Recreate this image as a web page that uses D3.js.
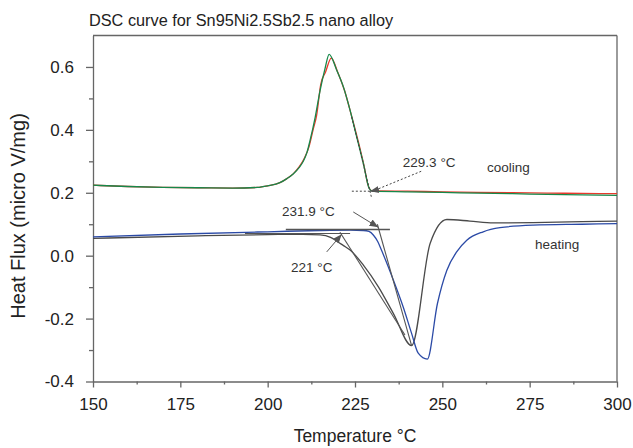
<!DOCTYPE html>
<html>
<head>
<meta charset="utf-8">
<script src="https://cdnjs.cloudflare.com/ajax/libs/d3/7.8.5/d3.min.js"></script>
<style>
  body { margin: 0; background: #fff; }
  svg { font-family: "Liberation Sans", Arial, sans-serif; }
</style>
</head>
<body>
<svg id="chart" width="633" height="448"></svg>
<script>
// tick values
var xTicks = [150, 175, 200, 225, 250, 275, 300];
var xMinor = [162.5, 187.5, 212.5, 237.5, 262.5, 287.5];
var yTicks = [-0.4, -0.2, 0.0, 0.2, 0.4, 0.6];
var yMinor = [-0.3, -0.1, 0.1, 0.3, 0.5];

// cooling run (green) and repeat (red)
var greenT = [150, 160, 170, 180, 190, 197, 200, 203.5, 205.5, 207.3, 209, 210.2, 211.3, 212.1, 213.6, 215, 216.4, 217.6, 219.8, 221.7, 223.6, 225.5, 227.4, 229.1, 230, 240, 250, 260, 270, 280, 290, 300];
var greenV = [0.224, 0.220, 0.217, 0.216, 0.215, 0.217, 0.222, 0.232, 0.245, 0.260, 0.280, 0.300, 0.330, 0.365, 0.440, 0.525, 0.594, 0.640, 0.589, 0.536, 0.462, 0.377, 0.293, 0.213, 0.205, 0.203, 0.201, 0.199, 0.197, 0.195, 0.193, 0.192];
var redT = [150, 160, 170, 180, 190, 197, 200, 203.5, 205.5, 207.3, 209, 210.5, 211.8, 213, 214, 215.2, 216.6, 218.2, 220, 222, 224, 226, 227.6, 228.8, 229.8, 240, 250, 260, 270, 280, 290, 300];
var redV = [0.224, 0.220, 0.217, 0.216, 0.215, 0.217, 0.222, 0.232, 0.245, 0.260, 0.282, 0.310, 0.345, 0.400, 0.445, 0.545, 0.585, 0.628, 0.585, 0.525, 0.445, 0.360, 0.285, 0.222, 0.207, 0.205, 0.203, 0.201, 0.200, 0.199, 0.198, 0.197];

// heating runs
var blueT = [150, 175, 200, 215, 223.6, 227.4, 229, 230.3, 231.5, 232.6, 236, 238.8, 241.2, 243.1, 245.7, 248.6, 251.3, 254.1, 257, 261.7, 266.5, 276, 290, 300];
var blueV = [0.060, 0.069, 0.076, 0.080, 0.081, 0.080, 0.077, 0.065, 0.045, 0.017, -0.078, -0.163, -0.247, -0.310, -0.329, -0.152, -0.046, 0.012, 0.049, 0.076, 0.089, 0.097, 0.100, 0.102];
var blackT = [150, 180, 200, 210, 215, 218, 219.8, 221.7, 223.6, 227.4, 231.7, 236, 241.2, 246.5, 251.3, 257.9, 264.6, 276, 290, 300];
var blackV = [0.055, 0.063, 0.067, 0.068, 0.066, 0.058, 0.046, 0.032, 0.018, -0.030, -0.099, -0.184, -0.286, 0.039, 0.115, 0.110, 0.104, 0.105, 0.108, 0.110];

// onset construction lines [T1, v1, T2, v2]
var dottedLines = [[224.1, 0.205, 230.7, 0.205], [224.06, 0.4406, 229.78, 0.1825], [230.7, 0.208, 244.1, 0.269]];
var solidLines = [[205.2, 0.083, 235, 0.083], [231.4, 0.100, 241.2, -0.286], [193.5, 0.0705, 223.6, 0.0705], [220.7, 0.0746, 239.3, -0.252]];
var arrows = [[231.6, 0.210, 229.3, 0.205], [224.5, 0.139, 231.7, 0.090], [216.9, 0.012, 221.2, 0.068]];

var labels = ['229.3 °C', 'cooling', 'heating', '231.9 °C', '221 °C'];
var labelT = [238.7, 262.8, 276.5, 204.1, 206.7];
var labelV = [0.281, 0.265, 0.0206, 0.125, -0.051];

var svg = d3.select('#chart');
var x = d3.scaleLinear().domain([150, 300]).range([93, 617]);
var y = d3.scaleLinear().domain([-0.4, 0.7]).range([381.5, 35.5]);
var axisColor = '#666';

svg.append('defs').append('marker')
    .attr('id', 'arr')
    .attr('viewBox', '0 0 10 10')
    .attr('refX', 10).attr('refY', 5)
    .attr('markerWidth', 9).attr('markerHeight', 9)
    .attr('markerUnits', 'userSpaceOnUse')
    .attr('orient', 'auto')
  .append('path')
    .attr('d', 'M0,1 L10,5 L0,9 Z')
    .attr('fill', '#555');

// frame
svg.append('line').attr('x1', x(150)).attr('x2', x(300)).attr('y1', y(0.7)).attr('y2', y(0.7))
    .attr('stroke', axisColor).attr('stroke-width', 1.3);
svg.append('line').attr('x1', x(300)).attr('x2', x(300)).attr('y1', y(0.7)).attr('y2', y(-0.4))
    .attr('stroke', axisColor).attr('stroke-width', 1.3);

var fmt = function(d){ return d3.format('.1f')(d).replace('−', '-'); };

var gx = svg.append('g').attr('transform', 'translate(0,' + y(-0.4) + ')')
    .call(d3.axisBottom(x).tickValues(xTicks).tickSize(6).tickSizeOuter(0).tickPadding(10));
var gxm = svg.append('g').attr('transform', 'translate(0,' + y(-0.4) + ')')
    .call(d3.axisBottom(x).tickValues(xMinor).tickSize(3).tickFormat(''));
var gy = svg.append('g').attr('transform', 'translate(' + x(150) + ',0)')
    .call(d3.axisLeft(y).tickValues(yTicks).tickFormat(fmt).tickSize(7).tickSizeOuter(0).tickPadding(12));
var gym = svg.append('g').attr('transform', 'translate(' + x(150) + ',0)')
    .call(d3.axisLeft(y).tickValues(yMinor).tickSize(4).tickFormat(''));

[gx, gxm, gy, gym].forEach(function(g){
  g.selectAll('path').attr('stroke', axisColor).attr('stroke-width', 1.3);
  g.selectAll('line').attr('stroke', axisColor).attr('stroke-width', 1.3);
  g.selectAll('text').attr('fill', '#222').style('font-size', '17px')
    .style('font-family', '"Liberation Sans", Arial, sans-serif');
});
gxm.select('path').remove();
gym.select('path').remove();

function drawCurve(ts, vs, color){
  var pts = ts.map(function(t, i){ return [t, vs[i]]; });
  svg.append('path')
    .datum(pts)
    .attr('fill', 'none')
    .attr('stroke', color)
    .attr('stroke-width', 1.3)
    .attr('stroke-linejoin', 'round')
    .attr('d', d3.line().x(function(d){ return x(d[0]); }).y(function(d){ return y(d[1]); }).curve(d3.curveMonotoneX));
}

drawCurve(blackT, blackV, '#4a4a4a');
drawCurve(blueT, blueV, '#2b4aa6');
drawCurve(redT, redV, '#e8392d');
drawCurve(greenT, greenV, '#16884a');

svg.selectAll('.dot-line').data(dottedLines).enter().append('line')
    .attr('x1', function(d){ return x(d[0]); }).attr('y1', function(d){ return y(d[1]); })
    .attr('x2', function(d){ return x(d[2]); }).attr('y2', function(d){ return y(d[3]); })
    .attr('stroke', '#444').attr('stroke-width', 1).attr('stroke-dasharray', '2,2');

svg.selectAll('.solid-line').data(solidLines).enter().append('line')
    .attr('x1', function(d){ return x(d[0]); }).attr('y1', function(d){ return y(d[1]); })
    .attr('x2', function(d){ return x(d[2]); }).attr('y2', function(d){ return y(d[3]); })
    .attr('stroke', '#555').attr('stroke-width', function(d, i){ return i == 0 ? 1.6 : 1.1; });

svg.selectAll('.arrow').data(arrows).enter().append('line')
    .attr('x1', function(d){ return x(d[0]); }).attr('y1', function(d){ return y(d[1]); })
    .attr('x2', function(d){ return x(d[2]); }).attr('y2', function(d){ return y(d[3]); })
    .attr('stroke', '#555').attr('stroke-width', 1)
    .attr('marker-end', 'url(#arr)');

svg.selectAll('.note').data(labels).enter().append('text')
    .attr('x', function(d, i){ return x(labelT[i]); })
    .attr('y', function(d, i){ return y(labelV[i]); })
    .attr('fill', '#333')
    .style('font-size', '13.5px')
    .text(function(d){ return d; });

svg.append('text').attr('x', 89).attr('y', 26)
    .attr('fill', '#222').style('font-size', '16.3px')
    .text('DSC curve for Sn95Ni2.5Sb2.5 nano alloy');

svg.append('text').attr('x', 355).attr('y', 442).attr('text-anchor', 'middle')
    .attr('fill', '#222').style('font-size', '17.5px')
    .text('Temperature °C');

svg.append('text').attr('transform', 'translate(25,216) rotate(-90)').attr('text-anchor', 'middle')
    .attr('fill', '#222').style('font-size', '20px')
    .text('Heat Flux (micro V/mg)');
</script>
</body>
</html>
